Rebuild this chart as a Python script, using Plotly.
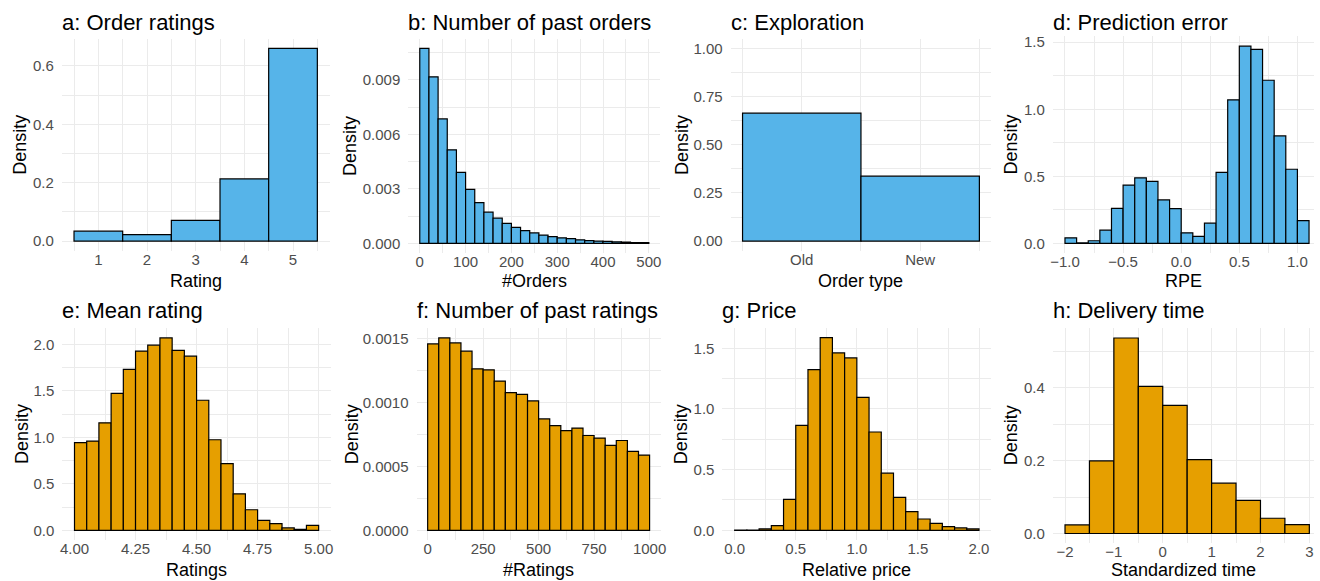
import plotly.graph_objects as go

W, H = 1320, 581

# ---------------- data ----------------
rating_values = [1, 2, 3, 4, 5]
rating_density = [0.034, 0.022, 0.071, 0.213, 0.660]

orders_bin_start, orders_bin_width = 0, 20
orders_density = [0.01074, 0.00917, 0.00685, 0.00515, 0.00391, 0.00298, 0.00225,
                  0.00172, 0.00139, 0.00110, 0.00088, 0.00071, 0.00058, 0.00046,
                  0.00038, 0.00031, 0.00026, 0.00020, 0.00016, 0.00013, 0.00011,
                  0.00009, 0.00007, 0.00005, 0.00004]

order_types = ["Old", "New"]
order_type_pos = [1, 2]
order_type_density = [0.664, 0.337]

rpe_bin_start, rpe_bin_width = -1.0, 0.1
rpe_density = [0.042, 0.005, 0.020, 0.099, 0.262, 0.435, 0.489, 0.462, 0.324, 0.259,
               0.079, 0.052, 0.151, 0.529, 1.070, 1.470, 1.446, 1.216, 0.801, 0.553,
               0.170]

meanrating_bin_start, meanrating_bin_width = 4.0, 0.05
meanrating_density = [0.943, 0.961, 1.157, 1.475, 1.732, 1.929, 1.993, 2.071, 1.936,
                      1.875, 1.400, 0.975, 0.718, 0.393, 0.221, 0.107, 0.071, 0.025,
                      0.011, 0.054]

nratings_bin_start, nratings_bin_width = 0, 50
nratings_density = [0.001461, 0.001508, 0.001469, 0.001404, 0.001266, 0.001258,
                    0.001170, 0.001079, 0.001066, 0.001014, 0.000873, 0.000821,
                    0.000782, 0.000801, 0.000743, 0.000723, 0.000665, 0.000704,
                    0.000619, 0.000590]

price_bin_start, price_bin_width = 0.0, 0.1
price_density = [0.001, 0.002, 0.011, 0.038, 0.255, 0.865, 1.325, 1.588, 1.462, 1.421,
                 1.095, 0.810, 0.471, 0.271, 0.153, 0.093, 0.057, 0.030, 0.019, 0.011]

time_bin_start, time_bin_width = -2.0, 0.5
time_density = [0.0236, 0.199, 0.536, 0.4036, 0.351, 0.2027, 0.138, 0.0909, 0.0418,
                0.0245]

titles = ["a: Order ratings", "b: Number of past orders", "c: Exploration",
          "d: Prediction error", "e: Mean rating", "f: Number of past ratings",
          "g: Price", "h: Delivery time"]
xtitles = ["Rating", "#Orders", "Order type", "RPE", "Ratings", "#Ratings",
           "Relative price", "Standardized time"]

a_xticks = [1, 2, 3, 4, 5]
a_yticks = [0.0, 0.2, 0.4, 0.6]
a_ylabels = ["0.0", "0.2", "0.4", "0.6"]
b_xticks = [0, 100, 200, 300, 400, 500]
b_yticks = [0.0, 0.003, 0.006, 0.009]
b_ylabels = ["0.000", "0.003", "0.006", "0.009"]
c_yticks = [0.0, 0.25, 0.5, 0.75, 1.0]
c_ylabels = ["0.00", "0.25", "0.50", "0.75", "1.00"]
d_xticks = [-1.0, -0.5, 0.0, 0.5, 1.0]
d_xlabels = ["\u22121.0", "\u22120.5", "0.0", "0.5", "1.0"]
d_yticks = [0.0, 0.5, 1.0, 1.5]
d_ylabels = ["0.0", "0.5", "1.0", "1.5"]
e_xticks = [4.0, 4.25, 4.5, 4.75, 5.0]
e_xlabels = ["4.00", "4.25", "4.50", "4.75", "5.00"]
e_yticks = [0.0, 0.5, 1.0, 1.5, 2.0]
e_ylabels = ["0.0", "0.5", "1.0", "1.5", "2.0"]
f_xticks = [0, 250, 500, 750, 1000]
f_yticks = [0.0, 0.0005, 0.0010, 0.0015]
f_ylabels = ["0.0000", "0.0005", "0.0010", "0.0015"]
g_xticks = [0.0, 0.5, 1.0, 1.5, 2.0]
g_xlabels = ["0.0", "0.5", "1.0", "1.5", "2.0"]
g_yticks = [0.0, 0.5, 1.0, 1.5]
g_ylabels = ["0.0", "0.5", "1.0", "1.5"]
h_xticks = [-2, -1, 0, 1, 2, 3]
h_xlabels = ["\u22122", "\u22121", "0", "1", "2", "3"]
h_yticks = [0.0, 0.2, 0.4]
h_ylabels = ["0.0", "0.2", "0.4"]

BLUE = "#56B4E9"
ORANGE = "#E69F00"


def centers(start, width, n):
    return [start + width * (i + 0.5) for i in range(n)]


def mids(ticks):
    step = ticks[1] - ticks[0]
    return [ticks[0] - step / 2] + [t + step / 2 for t in ticks]


panels = [
    dict(x=rating_values, y=rating_density, w=1, color=BLUE,
         xr=[0.25, 5.75], ytop=max(rating_density), px=[59.25, 328.75], py=[36.0, 249.0],
         xt=a_xticks, xl=[str(v) for v in a_xticks], yt=a_yticks, yl=a_ylabels, ytx=17),
    dict(x=centers(orders_bin_start, orders_bin_width, len(orders_density)), y=orders_density,
         w=orders_bin_width, color=BLUE,
         xr=[-25, 525], ytop=max(orders_density), px=[408.1, 661.8], py=[35.7, 251.5],
         xt=b_xticks, xl=[str(v) for v in b_xticks], yt=b_yticks, yl=b_ylabels, ytx=349.5),
    dict(x=order_type_pos, y=order_type_density, w=1, color=BLUE,
         xr=[0.4, 2.6], ytop=1.0, px=[732.7, 995.0], py=[36.0, 249.0],
         xt=order_type_pos, xl=order_types, yt=c_yticks, yl=c_ylabels, ytx=683,
         xminor=[0.5, 1.5, 2.5]),
    dict(x=centers(rpe_bin_start, rpe_bin_width, len(rpe_density)), y=rpe_density,
         w=rpe_bin_width, color=BLUE,
         xr=[-1.105, 1.1427], ytop=max(rpe_density), px=[1057.0, 1320.0], py=[33.5, 251.6],
         xt=d_xticks, xl=d_xlabels, yt=d_yticks, yl=d_ylabels, ytx=1014.5),
    dict(x=centers(meanrating_bin_start, meanrating_bin_width, len(meanrating_density)),
         y=meanrating_density, w=meanrating_bin_width, color=ORANGE,
         xr=[3.95, 5.05], ytop=max(meanrating_density), px=[59.7, 330.1], py=[327.0, 539.7],
         xt=e_xticks, xl=e_xlabels, yt=e_yticks, yl=e_ylabels, ytx=19),
    dict(x=centers(nratings_bin_start, nratings_bin_width, len(nratings_density)),
         y=nratings_density, w=nratings_bin_width, color=ORANGE,
         xr=[-50, 1050], ytop=max(nratings_density), px=[416.4, 662.2], py=[327.0, 539.7],
         xt=f_xticks, xl=[str(v) for v in f_xticks], yt=f_yticks, yl=f_ylabels, ytx=351.5),
    dict(x=centers(price_bin_start, price_bin_width, len(price_density)), y=price_density,
         w=price_bin_width, color=ORANGE,
         xr=[-0.1, 2.1], ytop=max(price_density), px=[724.4, 995.0], py=[326.7, 539.7],
         xt=g_xticks, xl=g_xlabels, yt=g_yticks, yl=g_ylabels, ytx=683),
    dict(x=centers(time_bin_start, time_bin_width, len(time_density)), y=time_density,
         w=time_bin_width, color=ORANGE,
         xr=[-2.25, 3.0955], ytop=max(time_density), px=[1057.0, 1320.0], py=[326.9, 543.1],
         xt=h_xticks, xl=h_xlabels, yt=h_yticks, yl=h_ylabels, ytx=1014.5),
]

FONT = "Liberation Sans, Arial, sans-serif"
GRID = "#EBEBEB"
TICKCOL = "#4D4D4D"

fig = go.Figure()
annotations = []
for i, p in enumerate(panels):
    k = "" if i == 0 else str(i + 1)
    fig.add_trace(go.Bar(
        x=p["x"], y=p["y"], width=p["w"], xaxis="x" + k, yaxis="y" + k,
        marker=dict(color=p["color"], line=dict(color="black", width=1.2)),
        showlegend=False, hoverinfo="x+y"))
    yr = [-0.05 * p["ytop"], 1.05 * p["ytop"]]
    xdom = [p["px"][0] / W, min(p["px"][1] / W, 1.0)]
    ydom = [1 - p["py"][1] / H, 1 - p["py"][0] / H]
    xminor = p.get("xminor", mids(p["xt"]))
    yminor = mids(p["yt"])
    fig.update_layout(**{
        "xaxis" + k: dict(domain=xdom, range=p["xr"], anchor="y" + k,
                          tickmode="array", tickvals=p["xt"], ticktext=p["xl"],
                          showgrid=True, gridcolor=GRID, gridwidth=1.1,
                          zeroline=False, showline=False, ticks="",
                          ticklabelstandoff=-2,
                          tickfont=dict(family=FONT, size=15, color=TICKCOL),
                          minor=dict(tickmode="array", tickvals=xminor, showgrid=True,
                                     gridcolor=GRID, gridwidth=0.6),
                          fixedrange=True),
        "yaxis" + k: dict(domain=ydom, range=yr, anchor="x" + k,
                          tickmode="array", tickvals=p["yt"], ticktext=p["yl"],
                          showgrid=True, gridcolor=GRID, gridwidth=1.1,
                          zeroline=False, showline=False, ticks="",
                          ticklabelstandoff=7,
                          tickfont=dict(family=FONT, size=15, color=TICKCOL),
                          minor=dict(tickmode="array", tickvals=yminor, showgrid=True,
                                     gridcolor=GRID, gridwidth=0.6),
                          fixedrange=True),
    })
    row1 = i < 4
    right = min(p["px"][1], 1320.0)
    # panel title
    annotations.append(dict(text=titles[i], xref="paper", yref="paper",
                            x=(p["px"][0] - 2) / W, y=1 - (19.5 if row1 else 309.0) / H,
                            xanchor="left", yanchor="middle", showarrow=False,
                            font=dict(family=FONT, size=22, color="black")))
    # x axis title
    annotations.append(dict(text=xtitles[i], xref="paper", yref="paper",
                            x=(p["px"][0] + right) / 2 / W,
                            y=1 - (279.5 if row1 else 570.0) / H,
                            xanchor="center", yanchor="middle", showarrow=False,
                            font=dict(family=FONT, size=18, color="black")))
    # y axis title
    annotations.append(dict(text="Density", xref="paper", yref="paper",
                            x=p["ytx"] / W, y=1 - (p["py"][0] + p["py"][1]) / 2 / H,
                            xanchor="center", yanchor="middle", textangle=-90,
                            showarrow=False,
                            font=dict(family=FONT, size=18, color="black")))

fig.update_layout(width=W, height=H, margin=dict(l=0, r=0, t=0, b=0),
                  paper_bgcolor="white", plot_bgcolor="white",
                  annotations=annotations, barmode="overlay",
                  font=dict(family=FONT))

fig.write_html("out.html", config={"displayModeBar": False},
               post_script="document.body.style.margin='0px';document.body.style.overflow='hidden';")
